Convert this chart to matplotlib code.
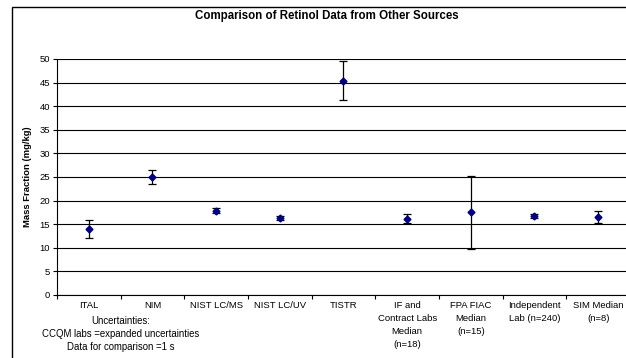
import numpy as np
import matplotlib.pyplot as plt
from matplotlib.patches import Rectangle

plt.rcParams["font.family"] = ["Liberation Sans", "DejaVu Sans"]

labels = [
    "ITAL",
    "NIM",
    "NIST LC/MS",
    "NIST LC/UV",
    "TISTR",
    "IF and\nContract Labs\nMedian\n(n=18)",
    "FPA FIAC\nMedian\n(n=15)",
    "Independent\nLab (n=240)",
    "SIM Median\n(n=8)",
]
values = [14.0, 25.0, 17.9, 16.3, 45.4, 16.2, 17.5, 16.7, 16.6]
errors = [1.9, 1.45, 0.5, 0.5, 4.1, 0.9, 7.8, 0.4, 1.3]
y_ticks = [0, 5, 10, 15, 20, 25, 30, 35, 40, 45, 50]

fig = plt.figure(figsize=(6.26, 3.58), dpi=100)
ax = fig.add_axes([57 / 626, 1 - 295 / 358, 573 / 626, 236 / 358])

# outer chart frame (right/bottom edges fall outside the picture)
fig.patches.append(Rectangle((12 / 626, -0.05), 1.0, 1 - 7 / 358 + 0.05,
                             transform=fig.transFigure, fill=False,
                             edgecolor="black", lw=1.0, clip_on=False))

x = np.arange(len(labels)) + 0.5
ax.errorbar(x, values, yerr=errors, fmt="D", color="#000080", ms=3.5,
            ecolor="black", elinewidth=0.9, capsize=2.8, capthick=0.9, zorder=3)

ax.set_xlim(0, len(labels))
ax.set_ylim(0, 50)
ax.set_yticks(y_ticks)
ax.yaxis.grid(True, color="black", lw=0.8)
ax.set_axisbelow(True)
for s in ["top", "right"]:
    ax.spines[s].set_visible(False)
ax.spines["left"].set_linewidth(0.8)
ax.spines["bottom"].set_linewidth(0.8)

ax.set_xticks(np.arange(len(labels) + 1))
ax.set_xticklabels([])
ax.set_xticks(x, minor=True)
ax.set_xticklabels(labels, minor=True, fontsize=6.8, linespacing=1.6, va="top")
ax.tick_params(axis="x", which="major", direction="out", length=3, width=0.8)
ax.tick_params(axis="x", which="minor", length=0, pad=4)
ax.tick_params(axis="y", direction="out", length=3, width=0.8, labelsize=6.8, pad=2)

ax.set_ylabel("Mass Fraction (mg/kg)", fontsize=6.8, fontweight="bold", labelpad=5)

fig.text(327 / 626, 1 - 16 / 358, "Comparison of Retinol Data from Other Sources",
         ha="center", va="center", fontsize=8.3, fontweight="bold")
fig.text(121 / 626, 1 - 334 / 358,
         "Uncertainties:\nCCQM labs =expanded uncertainties\nData for comparison =1 s",
         ha="center", va="center", fontsize=6.9, linespacing=1.4)

fig.savefig("out.png", dpi=100)
